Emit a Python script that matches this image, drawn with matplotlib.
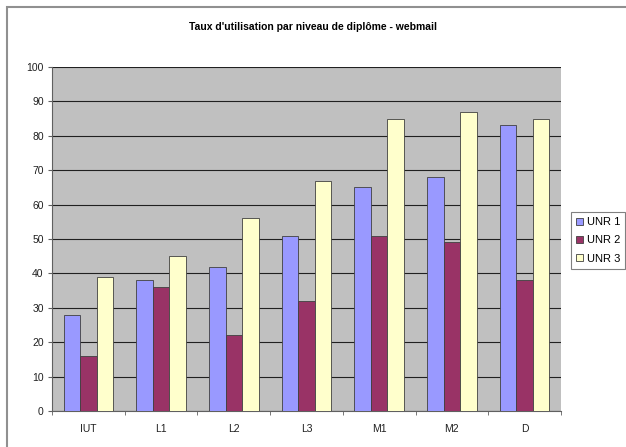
import numpy as np
import matplotlib.pyplot as plt
from matplotlib.patches import Rectangle

categories = ["IUT", "L1", "L2", "L3", "M1", "M2", "D"]
series_names = ["UNR 1", "UNR 2", "UNR 3"]
unr1 = [28, 38, 42, 51, 65, 68, 83]
unr2 = [16, 36, 22, 32, 51, 49, 38]
unr3 = [39, 45, 56, 67, 85, 87, 85]
colors = ["#9999FF", "#993366", "#FFFFCC"]

fig = plt.figure(figsize=(6.26, 4.47), dpi=100)
plt.rcParams['font.family'] = ['Liberation Sans', 'DejaVu Sans']

# cadre du graphique (coupé à droite et en bas)
fig.patches.append(Rectangle((7 / 626, -0.1), 1.1, 1 - 7 / 447 + 0.1, transform=fig.transFigure,
                             fill=False, edgecolor="#909090", linewidth=1.5))

ax = fig.add_axes([52 / 626, 1 - 411 / 447, 509 / 626, 344 / 447])
ax.set_facecolor("#C0C0C0")

x = np.arange(len(categories))
w = 0.227
for i, (vals, name) in enumerate(zip([unr1, unr2, unr3], series_names)):
    ax.bar(x + (i - 1) * w, vals, width=w, color=colors[i], edgecolor="#404040",
           linewidth=0.6, label=name, zorder=3)

ax.set_xlim(-0.5, len(categories) - 0.5)
ax.set_ylim(0, 100)
ax.set_yticks(range(0, 101, 10))
ax.yaxis.grid(True, color="#202020", linewidth=0.8, zorder=1)
ax.set_axisbelow(True)

ax.set_xticks(x)
ax.set_xticklabels(categories, fontsize=7.5, color="#202020")
ax.set_xticks(np.arange(-0.5, len(categories)), minor=True)
ax.tick_params(axis="x", which="major", length=0, pad=9)
ax.tick_params(axis="x", which="minor", length=3, color="#606060")
ax.tick_params(axis="y", labelsize=7.5, labelcolor="#202020", length=3, color="#606060", pad=3)

for s in ["top", "right"]:
    ax.spines[s].set_visible(False)
ax.spines["left"].set_color("#606060")
ax.spines["bottom"].set_color("#606060")

fig.text(0.5, 1 - 27 / 447, "Taux d'utilisation par niveau de diplôme - webmail",
         ha="center", va="center", fontsize=7.5, fontweight="bold")

leg = fig.legend(loc="upper left", bbox_to_anchor=(571 / 626, 1 - 212 / 447),
                 fontsize=8, frameon=True, fancybox=False, handlelength=0.6,
                 handleheight=0.6, handletextpad=0.35, borderpad=0.45, labelspacing=0.75,
                 borderaxespad=0)
leg.get_frame().set_edgecolor("#606060")
leg.get_frame().set_linewidth(0.8)

fig.savefig("out.png", dpi=100)
